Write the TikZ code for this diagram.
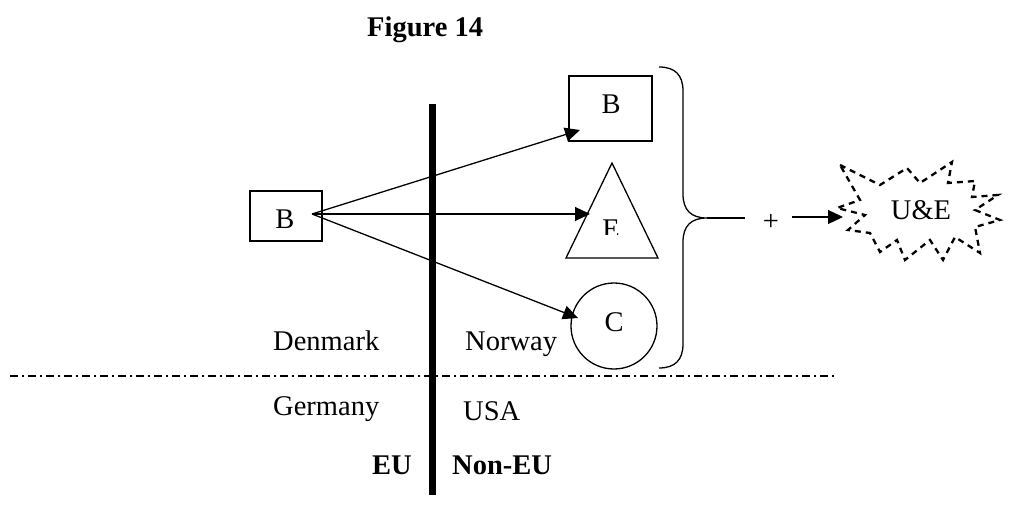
\documentclass[tikz,border=0pt]{standalone}
\usepackage{fontspec}
\setmainfont{Liberation Serif}
\usetikzlibrary{arrows.meta}
\begin{document}
\begin{tikzpicture}[x=1pt,y=-1pt,
  lbl/.style={inner sep=0pt,font=\fontsize{28.5}{34}\selectfont},
  boxst/.style={draw,line width=1.3pt,inner sep=0pt},
  arr/.style={line width=1.3pt,-{Triangle[length=15pt,width=14pt]}},
  thin/.style={line width=1.3pt}]
\useasboundingbox (0,0) rectangle (1013,508);
% title
\node[lbl,anchor=base west,font=\fontsize{28.5}{34}\selectfont\bfseries] (title) at (367,37) {Figure 14};
% separators
\draw[line width=1.5pt,dash pattern=on 8pt off 4pt on 2pt off 4pt] (10,376) -- (836,376);
\draw[line width=7pt] (432,104) -- (432,495);
% left box
\node[boxst,minimum width=72pt,minimum height=50pt] (lbox) at (286,216) {};
\node[lbl,anchor=base] (lbl) at (285,229) {B};
% right box
\node[boxst,minimum width=83pt,minimum height=65pt] (rbox) at (610.5,108.5) {};
\node[lbl,anchor=base] (rbl) at (611,114) {B};
% triangle
\draw[thin,line join=miter] (612,163) -- (658,258) -- (566,258) -- cycle;
\begin{scope}
\clip (590,200) rectangle (640,235);
\node[lbl,anchor=base] (el) at (611,238) {E};
\end{scope}
% circle
\node[draw,line width=1.3pt,circle,minimum size=86pt,inner sep=0pt] (circ) at (614,326) {};
\node[lbl,anchor=base] (cl) at (614,331) {C};
% arrows
\coordinate (src) at (312,214);
\coordinate (tB) at (580,130);
\coordinate (tE) at (590,214);
\coordinate (tC) at (578,318);
\draw[arr] (src) -- (tB);
\draw[arr] (src) -- (tE);
\draw[arr] (src) -- (tC);
% brace
\draw[thin] (659,67) .. controls (675,67) and (683,75) .. (683,91) -- (683,194)
  .. controls (683,210) and (691,218) .. (707,218)
  .. controls (691,218) and (683,226) .. (683,242) -- (683,344)
  .. controls (683,360) and (675,368) .. (659,368);
\coordinate (btip) at (707,218);
\coordinate (bend) at (745,218);
\draw[thin] (btip) -- (bend);
\node[lbl] (plus) at (771,222) {+};
\coordinate (a0) at (792,217);
\coordinate (a1) at (843,217);
\draw[arr] (a0) -- (a1);
% explosion
\draw[line width=2.3pt,dash pattern=on 6pt off 5pt]
  (840,165) -- (880,185) -- (907,168) -- (920,183) -- (952,162) -- (948,183)
  -- (975,181) -- (972,197) -- (998,195) -- (975,210) -- (1000,220) -- (975,227)
  -- (980,253) -- (955,237) -- (943,260) -- (930,240) -- (905,260) -- (897,240)
  -- (880,252) -- (870,233) -- (848,230) -- (865,215) -- (837,208) -- (860,200)
  -- cycle;
\node[lbl,anchor=base] (ue) at (921,220) {U\&E};
% region labels
\node[lbl,anchor=base west] (dk) at (273,350) {Denmark};
\node[lbl,anchor=base west] (no) at (465,350) {Norway};
\node[lbl,anchor=base west] (de) at (273,415) {Germany};
\node[lbl,anchor=base west] (us) at (463,420) {USA};
\node[lbl,anchor=base west,font=\fontsize{28.5}{34}\selectfont\bfseries] (eu) at (372,474) {EU};
\node[lbl,anchor=base west,font=\fontsize{28.5}{34}\selectfont\bfseries] (neu) at (452,474) {Non-EU};
\end{tikzpicture}
\end{document}
